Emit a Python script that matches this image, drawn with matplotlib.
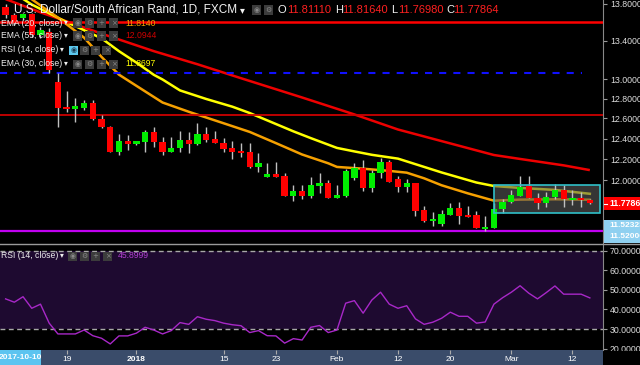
import numpy as np
import matplotlib
matplotlib.use("Agg")
import matplotlib.pyplot as plt
from matplotlib.patches import Rectangle
from matplotlib.lines import Line2D
from matplotlib.ticker import FixedLocator, NullLocator, FuncFormatter

plt.rcParams['font.family'] = ['Liberation Sans', 'DejaVu Sans']

# ---------------- data (daily candles, USD/ZAR) ----------------
opens = [13.763, 13.676, 13.644, 13.687, 13.461, 13.493, 12.969, 12.718, 12.695, 12.708,
         12.758, 12.591, 12.512, 12.270, 12.377, 12.345, 12.370, 12.466, 12.370, 12.270,
         12.312, 12.387, 12.345, 12.443, 12.394, 12.361, 12.312, 12.280, 12.273, 12.128,
         12.032, 12.058, 12.038, 11.852, 11.896, 11.852, 11.943, 11.969, 11.833, 11.849,
         12.022, 12.118, 11.922, 12.070, 12.170, 12.010, 11.937, 11.969, 11.718, 11.620,
         11.589, 11.672, 11.740, 11.672, 11.672, 11.543, 11.552, 11.726, 11.790, 11.849,
         11.943, 11.833, 11.780, 11.837, 11.906, 11.811, 11.827, 11.8111]
highs = [13.800, 13.700, 13.700, 13.700, 13.547, 13.536, 13.062, 12.877, 12.805, 12.785,
         12.785, 12.634, 12.520, 12.446, 12.436, 12.380, 12.486, 12.518, 12.417, 12.417,
         12.476, 12.469, 12.551, 12.518, 12.476, 12.410, 12.377, 12.355, 12.358, 12.260,
         12.166, 12.176, 12.064, 11.953, 11.953, 12.032, 12.064, 12.000, 11.953, 12.106,
         12.160, 12.192, 12.096, 12.209, 12.192, 12.041, 12.010, 11.970, 11.758, 11.703,
         11.718, 11.786, 11.795, 11.756, 11.712, 11.666, 11.780, 11.818, 11.906, 12.038,
         12.038, 11.874, 11.889, 11.962, 11.953, 11.906, 11.889, 11.8164]
lows = [13.644, 13.570, 13.620, 13.440, 13.429, 13.062, 12.515, 12.667, 12.567, 12.685,
        12.588, 12.508, 12.265, 12.241, 12.290, 12.342, 12.273, 12.322, 12.241, 12.265,
        12.273, 12.260, 12.338, 12.365, 12.358, 12.273, 12.202, 12.224, 12.115, 12.080,
        12.030, 12.024, 11.850, 11.805, 11.820, 11.827, 11.874, 11.827, 11.827, 11.842,
        12.000, 11.899, 11.889, 12.022, 11.980, 11.889, 11.889, 11.666, 11.610, 11.574,
        11.574, 11.670, 11.589, 11.651, 11.548, 11.523, 11.548, 11.688, 11.780, 11.847,
        11.830, 11.728, 11.743, 11.818, 11.749, 11.765, 11.749, 11.7698]
closes = [13.676, 13.590, 13.687, 13.461, 13.515, 13.093, 12.705, 12.695, 12.725, 12.758,
          12.591, 12.512, 12.270, 12.377, 12.345, 12.377, 12.463, 12.365, 12.270, 12.309,
          12.387, 12.345, 12.443, 12.387, 12.361, 12.299, 12.273, 12.263, 12.128, 12.160,
          12.058, 12.026, 11.852, 11.896, 11.852, 11.953, 11.969, 11.833, 11.858, 12.086,
          12.118, 11.922, 12.070, 12.170, 11.984, 11.937, 11.969, 11.712, 11.620, 11.635,
          11.682, 11.740, 11.666, 11.657, 11.550, 11.564, 11.728, 11.795, 11.858, 11.931,
          11.833, 11.780, 11.837, 11.906, 11.820, 11.827, 11.811, 11.77864]

ema20_idx = [2, 4, 6, 9, 11, 13, 15, 18, 21, 25, 28, 31, 34, 37, 38, 41, 44, 46, 48, 50, 53, 56, 59, 63, 67]
ema20_val = [13.917, 13.780, 13.648, 13.433, 13.230, 13.045, 12.930, 12.760, 12.667, 12.552,
             12.466, 12.356, 12.245, 12.160, 12.125, 12.108, 12.087, 12.070, 12.016, 11.950,
             11.874, 11.805, 11.815, 11.818, 11.814]
ema30_idx = [2, 3, 7, 11, 13, 15, 17, 18, 20, 23, 26, 28, 33, 35, 38, 40, 42, 45, 50, 54, 56, 59, 63, 67]
ema30_val = [13.852, 13.790, 13.600, 13.426, 13.290, 13.170, 13.043, 12.995, 12.883, 12.796,
             12.718, 12.654, 12.472, 12.405, 12.309, 12.275, 12.242, 12.205, 12.072, 11.976,
             11.943, 11.925, 11.906, 11.8697]
ema55_idx = [0, 4, 8, 11, 17, 22, 27, 34, 40, 45, 54, 56, 59, 64, 67]
ema55_val = [13.850, 13.705, 13.575, 13.476, 13.290, 13.153, 13.008, 12.811, 12.640, 12.490,
             12.285, 12.240, 12.202, 12.140, 12.0944]

rsi = [45.4, 43.7, 46.5, 40.6, 42.7, 33.0, 27.5, 27.5, 27.5, 29.5,
       26.6, 25.3, 22.4, 26.5, 26.5, 27.9, 30.9, 29.5, 27.5, 29.2,
       33.3, 32.4, 36.3, 35.0, 34.3, 33.0, 32.2, 31.7, 28.2, 29.2,
       26.6, 26.5, 22.8, 25.1, 24.4, 30.9, 31.8, 28.2, 29.5, 43.2,
       44.5, 38.1, 44.8, 48.8, 42.7, 40.6, 41.9, 35.2, 32.4, 33.5,
       35.5, 38.6, 36.5, 36.5, 33.0, 33.6, 42.7, 46.0, 48.8, 52.1,
       48.3, 45.4, 48.6, 52.0, 47.8, 47.8, 47.8, 45.8999]

hline_red_top = 13.60
hline_red_mid = 12.635
hline_blue = 13.067
hline_magenta = 11.5232
box_idx = (56.0, 68.2)
box_price = (11.694, 11.953)

date_idx = [7, 15, 25, 31, 38, 45, 51, 58, 65]
date_lab = ['19', '2018', '15', '23', 'Feb', '12', '20', 'Mar', '12']
price_ticks = [13.8, 13.4, 13.0, 12.8, 12.6, 12.4, 12.2, 12.0, 11.6]
rsi_ticks = [20, 30, 40, 50, 60, 70]

# ---------------- figure ----------------
W, H = 640, 365
fig = plt.figure(figsize=(6.4, 3.65), dpi=100, facecolor='black')


def fx(x):
    return x / W


def fy(y):
    return 1 - y / H


XLIM = (-0.642, 68.51)

ax = fig.add_axes([0, fy(243), 603 / W, 243 / H])
ax.set_facecolor('black')
ax.set_yscale('log')
ax.set_ylim(11.4156, 13.840)
ax.set_xlim(*XLIM)

x = np.arange(len(opens))
o = np.array(opens); c = np.array(closes)
bull = c >= o
colors = np.where(bull, '#00ee00', '#ff0000')
ax.vlines(x, lows, highs, color='#c0c0c0', lw=1, zorder=4)
ax.bar(x, np.abs(c - o), bottom=np.minimum(o, c), width=0.72, color=colors, linewidth=0, zorder=5)

ax.plot(ema55_idx, ema55_val, color='#ee0000', lw=1.8, zorder=2, solid_capstyle='butt')
ax.plot(ema30_idx, ema30_val, color='#ffff00', lw=1.8, zorder=2)
ax.plot(ema20_idx, ema20_val, color='#f5a000', lw=1.8, zorder=2)

ax.axhline(hline_red_top, color='#ff0000', lw=1.8, zorder=3)
ax.axhline(hline_red_mid, color='#cc0000', lw=1.3, zorder=3)
ax.hlines(hline_blue, XLIM[0], 66.1, color='#1010ff', lw=1.5, linestyles=(0, (3.4, 3.4)), zorder=3)
ax.axhline(hline_magenta, color='#c000f0', lw=1.6, zorder=3)

ax.add_patch(Rectangle((box_idx[0], box_price[0]), box_idx[1] - box_idx[0], box_price[1] - box_price[0],
                       facecolor='#5a5a5a', alpha=0.6, edgecolor='none', zorder=3.5))
ax.add_patch(Rectangle((box_idx[0], box_price[0]), box_idx[1] - box_idx[0], box_price[1] - box_price[0],
                       facecolor='none', edgecolor='#2fc0c8', lw=1.2, zorder=6))

ax.yaxis.tick_right()
ax.yaxis.set_major_locator(FixedLocator(price_ticks))
ax.yaxis.set_minor_locator(NullLocator())
ax.yaxis.set_major_formatter(FuncFormatter(lambda v, p: f'{v:.5f}'))
ax.tick_params(axis='y', direction='out', length=3, width=0.8, color='#999999',
               labelcolor='#dddddd', labelsize=6.3, pad=2)
ax.set_xticks([])
for s in ['top', 'left', 'bottom']:
    ax.spines[s].set_visible(False)
ax.spines['right'].set_color('#888888')

# ---------------- RSI panel ----------------
rx = fig.add_axes([0, fy(350), 603 / W, 105 / H])
rx.set_facecolor('black')
rx.set_xlim(*XLIM)
rx.set_ylim(19.3, 72.9)
rx.axhspan(30, 70, color='#1e0a30', zorder=0, lw=0)
rx.axhline(70, color='#a8a8a8', lw=1, ls=(0, (3.5, 2.5)), zorder=1)
rx.axhline(30, color='#a8a8a8', lw=1, ls=(0, (3.5, 2.5)), zorder=1)
rx.plot(x, rsi, color='#a828c8', lw=1, zorder=2)
rx.yaxis.tick_right()
rx.yaxis.set_major_locator(FixedLocator(rsi_ticks))
rx.yaxis.set_major_formatter(FuncFormatter(lambda v, p: f'{v:.4f}'))
rx.tick_params(axis='y', direction='out', length=3, width=0.8, color='#999999',
               labelcolor='#dddddd', labelsize=6.3, pad=2)
rx.set_xticks(date_idx)
rx.set_xticklabels(date_lab)
rx.tick_params(axis='x', direction='out', length=3, width=0.8, color='#aaaaaa',
               labelcolor='#ffffff', labelsize=6, pad=1.5)
for lab in rx.get_xticklabels():
    if lab.get_text() == '2018':
        lab.set_fontweight('bold')
for s in ['top', 'left', 'bottom']:
    rx.spines[s].set_visible(False)
rx.spines['right'].set_color('#888888')

# date strip
fig.add_artist(Rectangle((0, fy(365)), fx(603), 15 / H, transform=fig.transFigure,
                         facecolor='#3a4c6a', edgecolor='none', zorder=-1))
fig.add_artist(Rectangle((fx(603.5), fy(365)), fx(37), 14.5 / H, transform=fig.transFigure,
                         facecolor='black', edgecolor='none', zorder=10))
fig.add_artist(Rectangle((0, fy(365)), fx(41), 15 / H, transform=fig.transFigure,
                         facecolor='#5cc4f0', edgecolor='none', zorder=11))
fig.text(fx(20.5), fy(357.5), '2017-10-10', color='white', fontsize=6, fontweight='bold',
         ha='center', va='center', zorder=12)

# panel separator
fig.add_artist(Line2D([0, 1], [fy(244), fy(244)], transform=fig.transFigure,
                      color='#9a9a9a', lw=1, zorder=9))

# ---------------- right-side labels ----------------
def plabel(y0, y1, txt, bg, size=6.3):
    fig.add_artist(Rectangle((fx(604), fy(y1)), fx(36), (y1 - y0) / H, transform=fig.transFigure,
                             facecolor=bg, edgecolor='none', zorder=11))
    fig.text(fx(609), fy((y0 + y1) / 2), txt, color='white', fontsize=size, fontweight='bold',
             ha='left', va='center', zorder=12)


plabel(197, 210, '11.77864', '#ff0000')
fig.add_artist(Line2D([fx(604), fx(607)], [fy(203.5), fy(203.5)], transform=fig.transFigure,
                      color='white', lw=0.8, zorder=12))
plabel(220, 231, '11.52323', '#8fd0f0', 6.0)
plabel(231, 243, '11.52000', '#8fd0f0', 6.0)

# ---------------- header texts ----------------
def T(xp, yp, s, color='#eeeeee', size=6.2, **kw):
    fig.text(fx(xp), fy(yp), s, color=color, fontsize=size, ha='left', va='center', zorder=20, **kw)


def icon(xp, yp, glyph, bg='#3c3c3c', fg='#8a8a8a'):
    fig.add_artist(Rectangle((fx(xp), fy(yp + 4.5)), fx(9), 9 / H, transform=fig.transFigure,
                             facecolor=bg, edgecolor='none', zorder=19))
    fig.text(fx(xp + 4.5), fy(yp), glyph, color=fg, fontsize=5, ha='center', va='center',
             zorder=20, family=['DejaVu Sans'])


T(14, 10, 'U.S. Dollar/South African Rand, 1D, FXCM', '#f2f2f2', 8.5)
T(240, 10, '▾', '#f2f2f2', 7)
icon(252, 10, '◉'); icon(264, 10, '⚙')
T(278, 10, 'O', '#f2f2f2', 8); T(287, 10, '11.81110', '#ff2020', 8)
T(335, 10, 'H', '#f2f2f2', 8); T(342, 10, '11.81640', '#ff2020', 8)
T(391, 10, 'L', '#f2f2f2', 8); T(398, 10, '11.76980', '#ff2020', 8)
T(446, 10, 'C', '#f2f2f2', 8); T(453, 10, '11.77864', '#ff2020', 8)

rows = [(23, 'EMA (20, close)', '11.8140', '#f5a000'),
        (36, 'EMA (55, close)', '12.0944', '#cc0000'),
        (64, 'EMA (30, close)', '11.8697', '#ffff00')]
for yp, name, val, col in rows:
    T(1, yp, name)
    T(63.5, yp, '▾', size=5.5)
    for xi, g in zip([73, 85, 97, 109], ['◉', '⚙', '+', '×']):
        icon(xi, yp, g)
    T(125, yp, val, col)

T(1, 50, 'RSI (14, close)')
T(59.5, 50, '▾', size=5.5)
icon(69, 50, '◉', bg='#5cc8ee', fg='#1a3a50')
for xi, g in zip([80, 91, 102], ['⚙', '+', '×']):
    icon(xi, 50, g)

T(1, 256, 'RSI (14, close)')
T(59.5, 256, '▾', size=5.5)
for xi, g in zip([68, 80, 91, 103], ['◉', '⚙', '+', '×']):
    icon(xi, 256, g)
T(118, 256, '45.8999', '#b040d0')

fig.savefig('out.png', dpi=100, facecolor='black')
